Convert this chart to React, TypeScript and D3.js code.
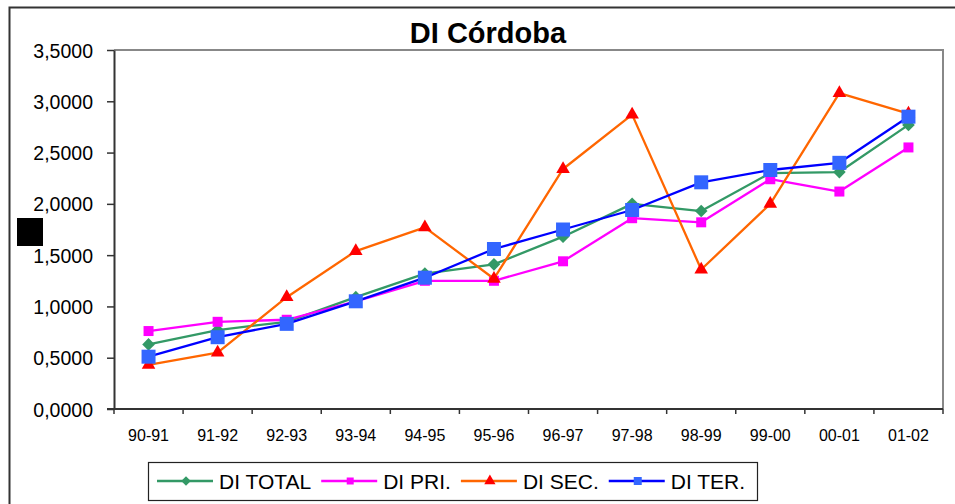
import React, { useEffect, useRef } from "react";
import * as d3 from "d3";

const categories = ["90-91", "91-92", "92-93", "93-94", "94-95", "95-96", "96-97", "97-98", "98-99", "99-00", "00-01", "01-02"];
const diTotal = [0.63, 0.77, 0.85, 1.09, 1.32, 1.41, 1.68, 2.0, 1.93, 2.3, 2.31, 2.77];
const diPri = [0.76, 0.85, 0.87, 1.05, 1.25, 1.25, 1.44, 1.86, 1.82, 2.24, 2.12, 2.55];
const diSec = [0.43, 0.55, 1.09, 1.54, 1.77, 1.27, 2.34, 2.87, 1.36, 2.0, 3.08, 2.88];
const diTer = [0.51, 0.7, 0.83, 1.05, 1.28, 1.56, 1.75, 1.94, 2.21, 2.33, 2.4, 2.85];
const yTicks = [0, 0.5, 1, 1.5, 2, 2.5, 3, 3.5];

const series = [
  { name: "DI TOTAL", values: diTotal, line: "#339966", fill: "#339966", shape: "diamond", size: 80, legendSize: 45 },
  { name: "DI PRI.", values: diPri, line: "#FF00FF", fill: "#FF00FF", shape: "square", size: 100, legendSize: 49 },
  { name: "DI SEC.", values: diSec, line: "#FF6600", fill: "#FF0000", shape: "triangle", size: 80, legendSize: 55 },
  { name: "DI TER.", values: diTer, line: "#0000FF", fill: "#3366FF", shape: "square", size: 196, legendSize: 64 },
];

const FONT = "'Liberation Sans', Arial, sans-serif";

const markerPath = (shape, size) => {
  if (shape === "triangle") return d3.symbol(d3.symbolTriangle, size)();
  return d3.symbol(d3.symbolSquare, size)();
};

const App = () => {
  const svgRef = useRef(null);

  useEffect(() => {
    const width = 955;
    const height = 504;
    const plot = { left: 114, right: 943, top: 50, bottom: 409 };

    const svg = d3.select(svgRef.current);
    svg.selectAll("*").remove();

    svg.append("rect").attr("width", width).attr("height", height).attr("fill", "#fff");

    // outer chart frame
    svg
      .append("path")
      .attr("d", `M9.5,${height + 2}V7.5H${width + 2}`)
      .attr("fill", "none")
      .attr("stroke", "#333")
      .attr("stroke-width", 2);

    const x = d3.scaleBand(categories, [plot.left, plot.right]);
    const y = d3.scaleLinear([0, 3.5], [plot.bottom, plot.top]);

    // plot border top/right
    svg
      .append("path")
      .attr("d", `M${plot.left},${plot.top}H${plot.right}V${plot.bottom}`)
      .attr("fill", "none")
      .attr("stroke", "#888")
      .attr("stroke-width", 2);

    // y axis
    svg
      .append("g")
      .attr("transform", `translate(${plot.left},0)`)
      .call(
        d3
          .axisLeft(y)
          .tickValues(yTicks)
          .tickSize(7)
          .tickSizeOuter(0)
          .tickFormat((d) => d3.format(".4f")(d).replace(".", ","))
      )
      .call((g) => g.select(".domain").attr("stroke", "#333").attr("stroke-width", 2))
      .call((g) => g.selectAll(".tick line").attr("stroke", "#333").attr("stroke-width", 1.5))
      .call((g) =>
        g
          .selectAll(".tick text")
          .attr("font-family", FONT)
          .attr("font-size", 19.5)
          .attr("fill", "#000")
          .attr("x", -21)
          .attr("dy", "0.36em")
      );

    // x axis
    const xg = svg.append("g").attr("transform", `translate(0,${plot.bottom})`);
    xg.append("line")
      .attr("x1", plot.left - 7)
      .attr("x2", plot.right)
      .attr("stroke", "#333")
      .attr("stroke-width", 2);
    const bounds = categories.map((c) => x(c)).concat([plot.right]);
    xg.selectAll(".xt")
      .data(bounds)
      .join("line")
      .attr("x1", (d) => d)
      .attr("x2", (d) => d)
      .attr("y1", 0)
      .attr("y2", 5)
      .attr("stroke", "#333")
      .attr("stroke-width", 1.5);
    xg.selectAll(".xl")
      .data(categories)
      .join("text")
      .attr("x", (d) => x(d) + x.bandwidth() / 2)
      .attr("y", 32)
      .attr("text-anchor", "middle")
      .attr("font-family", FONT)
      .attr("font-size", 16)
      .text((d) => d);

    // series
    const cx = (i) => x(categories[i]) + x.bandwidth() / 2;
    const line = d3
      .line()
      .x((_, i) => cx(i))
      .y((d) => y(d));

    series.forEach((s) => {
      const g = svg.append("g");
      g.append("path")
        .attr("d", line(s.values))
        .attr("fill", "none")
        .attr("stroke", s.line)
        .attr("stroke-width", 2.3)
        .attr("stroke-linejoin", "round");
      g.selectAll("path.m")
        .data(s.values)
        .join("path")
        .attr("class", "m")
        .attr("d", markerPath(s.shape, s.size))
        .attr(
          "transform",
          (d, i) => `translate(${cx(i)},${y(d)})${s.shape === "diamond" ? " rotate(45)" : ""}`
        )
        .attr("fill", s.fill);
    });

    // title
    svg
      .append("text")
      .attr("x", 488)
      .attr("y", 43)
      .attr("text-anchor", "middle")
      .attr("font-family", FONT)
      .attr("font-weight", "bold")
      .attr("font-size", 29)
      .text("DI Córdoba");

    // black square on left
    svg.append("rect").attr("x", 17).attr("y", 218).attr("width", 26).attr("height", 28).attr("fill", "#000");

    // legend
    const leg = { x: 148, y: 462, w: 609, h: 38 };
    const lg = svg.append("g");
    lg.append("rect")
      .attr("x", leg.x + 0.5)
      .attr("y", leg.y + 0.5)
      .attr("width", leg.w)
      .attr("height", leg.h)
      .attr("fill", "#fff")
      .attr("stroke", "#222")
      .attr("stroke-width", 1.2);
    let cursor = leg.x + 9;
    const ly = leg.y + 19;
    series.forEach((s) => {
      lg.append("line")
        .attr("x1", cursor)
        .attr("x2", cursor + 56)
        .attr("y1", ly)
        .attr("y2", ly)
        .attr("stroke", s.line)
        .attr("stroke-width", 2.3);
      lg.append("path")
        .attr("d", markerPath(s.shape, s.legendSize))
        .attr("transform", `translate(${cursor + 29},${ly})${s.shape === "diamond" ? " rotate(45)" : ""}`)
        .attr("fill", s.fill);
      const t = lg
        .append("text")
        .attr("x", cursor + 62)
        .attr("y", leg.y + 27)
        .attr("font-family", FONT)
        .attr("font-size", 21)
        .text(s.name);
      cursor += 62 + t.node().getComputedTextLength() + 10;
    });
  }, []);

  return (
    <svg
      ref={svgRef}
      width={955}
      height={504}
      style={{ position: "absolute", left: 0, top: 0, display: "block" }}
    />
  );
};

export default App;
